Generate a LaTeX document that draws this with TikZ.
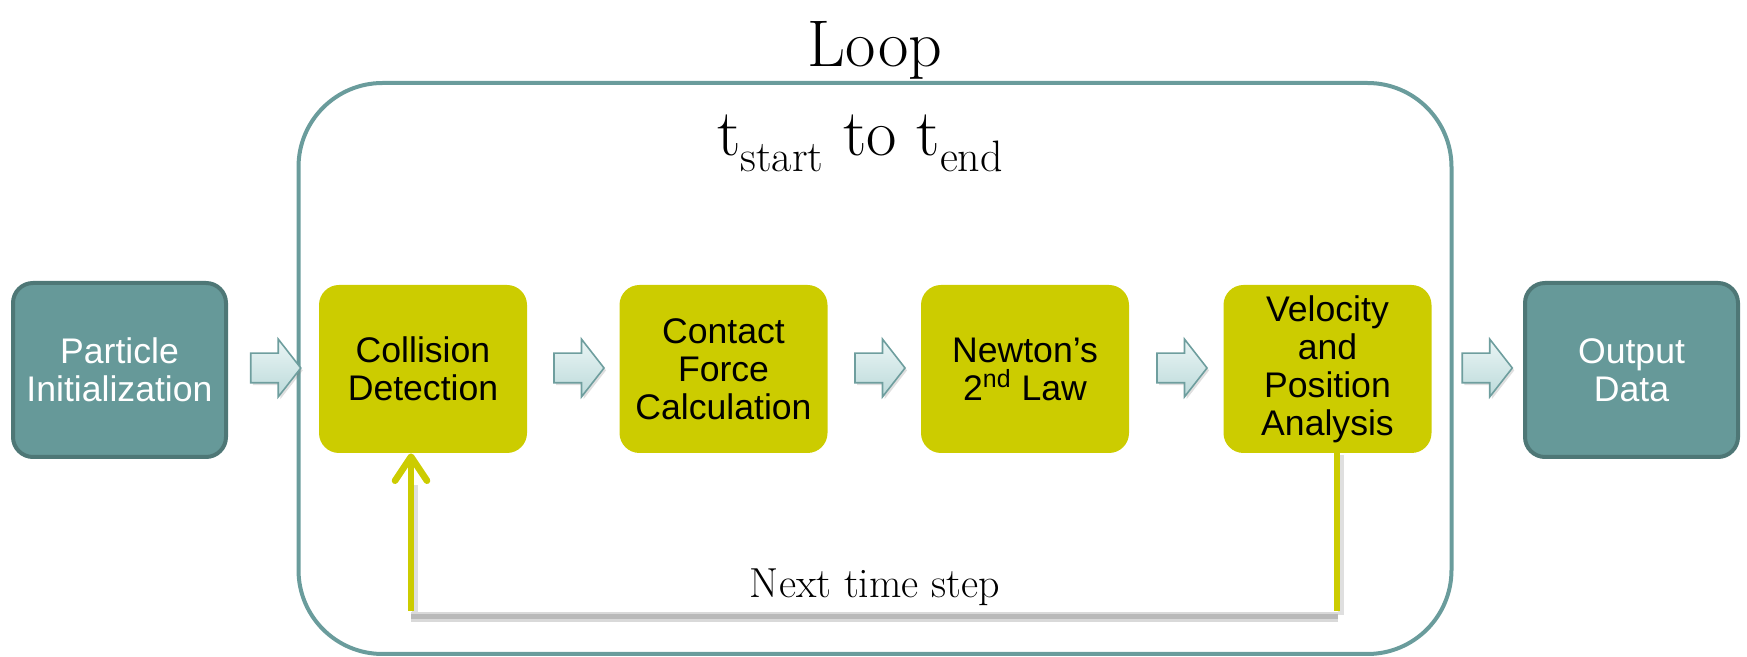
\documentclass[tikz,border=0pt]{standalone}
\usepackage{fontspec}
\newfontfamily\arial{Liberation Sans}
\usetikzlibrary{shapes.arrows,arrows.meta,calc,shadows}
\definecolor{tealfill}{HTML}{669999}
\definecolor{tealdark}{HTML}{4E7776}
\definecolor{loopcol}{HTML}{6A9C9C}
\definecolor{ybox}{HTML}{CCCC00}
\definecolor{arrtop}{HTML}{EAF5F5}
\definecolor{arrbot}{HTML}{BCDADA}
\definecolor{arrline}{HTML}{6E9E9E}
\tikzset{
  endbox/.style={rectangle, rounded corners=10pt, fill=tealfill, draw=tealdark, line width=2pt,
    minimum width=106.5pt, minimum height=87pt, align=center, text=white,
    font=\arial\fontsize{17.8}{19}\selectfont},
  stepbox/.style={rectangle, rounded corners=10pt, fill=ybox, draw=none,
    minimum width=104pt, minimum height=84pt, align=center, text=black,
    font=\arial\fontsize{17.8}{19}\selectfont},
  blockarrow/.style={single arrow, draw=arrline, line width=0.8pt, top color=arrtop, bottom color=arrbot,
    inner xsep=0pt, inner ysep=7pt, minimum width=28pt, minimum height=25pt, single arrow head extend=7pt,
    single arrow tip angle=104,
    drop shadow={opacity=0.25, shadow xshift=1pt, shadow yshift=-1.2pt}},
  loopbox/.style={rectangle, rounded corners=42pt, draw=loopcol, line width=2pt},
  fbline/.style={draw=ybox, line width=3.3pt},
  fbshadow/.style={draw=gray!25, line width=3pt},
}
\begin{document}
\begin{tikzpicture}[x=0.5pt,y=-0.5pt]
\useasboundingbox (0,0) rectangle (1747,657);
% loop container
\node[loopbox, minimum width=576.5pt, minimum height=285.5pt] (loop) at (875,368.5) {};
\node[anchor=base, font=\fontsize{33}{36}\selectfont, inner sep=0pt] (looplabel) at (875,67) {Loop};
\node[anchor=base, font=\fontsize{33}{36}\selectfont, inner sep=0pt] (range) at (860,156)
  {t\raisebox{-0.24em}{\fontsize{22}{22}\selectfont start} to t\raisebox{-0.24em}{\fontsize{22}{22}\selectfont end}};
% boxes
\node[endbox] (pi) at (119.5,370) {Particle\\Initialization};
\node[stepbox] (cd) at (423,369) {Collision\\Detection};
\node[stepbox] (cf) at (723.5,369) {Contact\\Force\\Calculation};
\node[stepbox] (nl) at (1025,369) {Newton’s\\2\textsuperscript{nd} Law};
\node[stepbox] (vp) at (1327.5,369) {Velocity\\and\\Position\\Analysis};
\node[endbox] (od) at (1631.5,370) {Output\\Data};
% block arrows
\node[blockarrow] (a1) at (270,368) {};
\node[blockarrow] (a2) at ($(cd.east)!0.5!(cf.west)+(0,-1)$) {};
\node[blockarrow] (a3) at ($(cf.east)!0.5!(nl.west)+(0,-1)$) {};
\node[blockarrow] (a4) at ($(nl.east)!0.5!(vp.west)+(0,-1)$) {};
\node[blockarrow] (a5) at (1481.5,368) {};
% feedback loop
\coordinate (fbR) at (1337,611);
\coordinate (fbL) at (411,611);
\draw[fbshadow] ($(fbR |- vp.south)+(4,2)$) -- ($(fbR)+(4,4)$);
\draw[fbshadow] ($(fbL)+(4,4)$) -- ($(fbL |- cd.south)+(4,32)$);
\draw[draw=gray!30, line width=5pt] ($(fbR)+(1,6)$) -- ($(fbL)+(0,6)$);
\draw[draw=gray!55, line width=2.5pt] ($(fbR)+(1,6)$) -- ($(fbL)+(0,6)$);
\draw[fbline] (fbR |- vp.south) -- (fbR);
\draw[fbline, -{Straight Barb[length=12pt,width=16pt,round]}] (fbL) -- (fbL |- cd.south);
\node[anchor=base, font=\fontsize{21}{24}\selectfont, inner sep=0pt] (next) at (875,597) {Next time step};
\end{tikzpicture}
\end{document}
